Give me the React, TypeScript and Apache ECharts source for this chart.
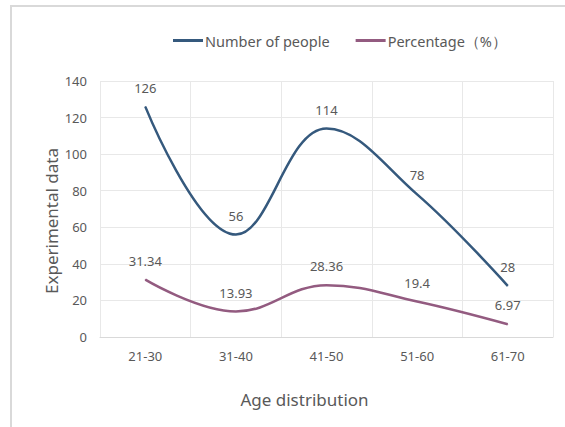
import React, { useEffect, useRef } from "react";
import * as echarts from "echarts";

const categories = ["21-30", "31-40", "41-50", "51-60", "61-70"];
const peopleValues = [126, 56, 114, 78, 28];
const percentValues = [31.34, 13.93, 28.36, 19.4, 6.97];
const seriesNames = ["Number of people", "Percentage（%）"];
const yTicks = { min: 0, max: 140, interval: 20 };

const FONT = "'Noto Sans', 'Open Sans', sans-serif";
const TEXT = "#595959";

export default function App() {
  const ref = useRef<HTMLDivElement>(null);
  useEffect(() => {
    if (!ref.current) return;
    const chart = echarts.init(ref.current, null, { renderer: "svg" });
    const labelCfg = {
      show: true,
      position: "top",
      distance: 12,
      color: TEXT,
      fontSize: 13,
      fontFamily: FONT,
    };
    chart.setOption({
      animation: false,
      backgroundColor: "#ffffff",
      textStyle: { fontFamily: FONT },
      graphic: [
        { type: "line", shape: { x1: 10, y1: 6, x2: 565, y2: 6 }, style: { stroke: "#d9d9d9", lineWidth: 2 } },
        { type: "line", shape: { x1: 11, y1: 6, x2: 11, y2: 427 }, style: { stroke: "#d9d9d9", lineWidth: 2 } },
      ],
      legend: {
        top: 28,
        left: 168,
        itemWidth: 30,
        itemHeight: 3,
        itemGap: 26,
        icon: "rect",
        textStyle: { color: TEXT, fontSize: 14.5, fontFamily: FONT, padding: [0, 0, 0, -3] },
        data: seriesNames,
      },
      grid: { left: 100, top: 81, right: 12, bottom: 90, containLabel: false },
      xAxis: {
        type: "category",
        data: categories,
        boundaryGap: true,
        name: "Age distribution",
        nameLocation: "middle",
        nameGap: 54,
        nameMoveOverlap: false,
        nameTextStyle: { color: TEXT, fontSize: 17, fontFamily: FONT, padding: [0, 44, 0, 0] },
        axisLine: { show: true, lineStyle: { color: "#d9d9d9" } },
        axisTick: { show: false },
        axisLabel: { color: TEXT, fontSize: 13, fontFamily: FONT, margin: 12 },
        splitLine: { show: true, lineStyle: { color: "#e8e8e8" } },
      },
      yAxis: {
        type: "value",
        min: yTicks.min,
        max: yTicks.max,
        interval: yTicks.interval,
        name: "Experimental data",
        nameLocation: "middle",
        nameGap: 40,
        nameMoveOverlap: false,
        nameTextStyle: { color: TEXT, fontSize: 17, fontFamily: FONT, padding: [0, 24, 0, 0] },
        axisLine: { show: false },
        axisTick: { show: false },
        axisLabel: { color: TEXT, fontSize: 13, fontFamily: FONT, margin: 13 },
        splitLine: { show: true, lineStyle: { color: "#e8e8e8" } },
      },
      series: [
        {
          name: seriesNames[0],
          type: "line",
          data: peopleValues,
          smooth: 0.4,
          symbol: "circle",
          symbolSize: 1,
          showSymbol: true,
          color: "#35597d",
          lineStyle: { width: 2.5, color: "#35597d" },
          itemStyle: { color: "#35597d" },
          label: labelCfg,
        },
        {
          name: seriesNames[1],
          type: "line",
          data: percentValues,
          smooth: 0.4,
          symbol: "circle",
          symbolSize: 1,
          showSymbol: true,
          color: "#935b80",
          lineStyle: { width: 2.5, color: "#935b80" },
          itemStyle: { color: "#935b80" },
          label: labelCfg,
        },
      ],
    });
    return () => chart.dispose();
  }, []);
  return (
    <div
      ref={ref}
      style={{ position: "fixed", left: 0, top: 0, width: 565, height: 427 }}
    />
  );
}
